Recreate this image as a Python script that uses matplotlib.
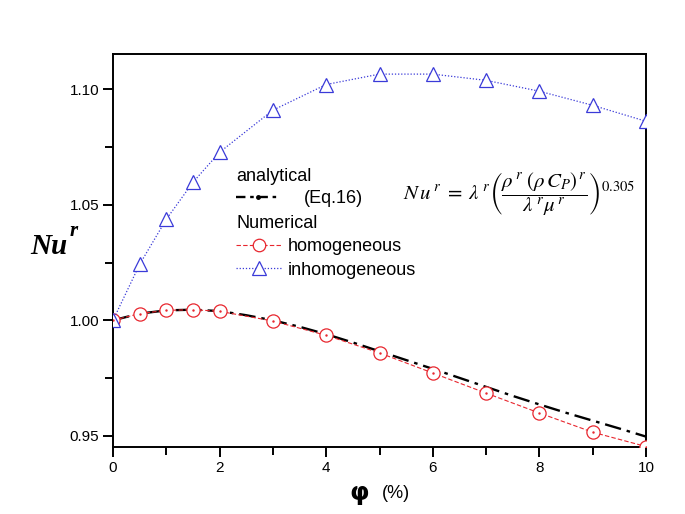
import matplotlib
matplotlib.use("Agg")
import matplotlib.pyplot as plt
from matplotlib.ticker import MultipleLocator, FixedLocator
from matplotlib.lines import Line2D

# ---- data ----
phi_num = [0, 0.5, 1, 1.5, 2, 3, 4, 5, 6, 7, 8, 9, 10]
nu_homog = [1.0000, 1.0029, 1.0043, 1.0046, 1.0039, 0.9997, 0.9935, 0.9859,
            0.9772, 0.9685, 0.9599, 0.9516, 0.9454]
nu_inhomog = [1.0000, 1.0242, 1.0437, 1.0597, 1.0727, 1.0909, 1.1020, 1.1065,
              1.1065, 1.1038, 1.0991, 1.0930, 1.0861]
phi_an = [0, 0.5, 1, 1.5, 2, 2.5, 3, 3.5, 4, 4.5, 5, 5.5, 6, 6.5, 7, 7.5, 8,
          8.5, 9, 9.5, 10]
nu_an = [1.0000, 1.0029, 1.0043, 1.0046, 1.0040, 1.0022, 1.0000, 0.9972,
         0.9940, 0.9904, 0.9866, 0.9828, 0.9790, 0.9751, 0.9712, 0.9673,
         0.9636, 0.9600, 0.9566, 0.9532, 0.9497]
xticks = [0, 2, 4, 6, 8, 10]
yticks = [0.95, 1.00, 1.05, 1.10]
ytick_labels = ["0.95", "1.00", "1.05", "1.10"]

RED = "#e8262e"
BLUE = "#3a3ad8"

plt.rcParams['font.family'] = ['Liberation Sans', 'DejaVu Sans']

fig = plt.figure(figsize=(6.85, 5.14), dpi=100)
ax = fig.add_axes([113/685, 67/514, 533/685, 393/514])

ax.plot(phi_an, nu_an, color="black", lw=1.7,
        dashes=(7, 2.5, 1.5, 2.5), zorder=2)
ax.plot(phi_num, nu_homog, color=RED, lw=0.8, ls=(0, (4, 2)), marker="o",
        ms=9.5, mfc="white", mec=RED, mew=0.9, zorder=3)
ax.plot(phi_num, nu_homog, ls="none", marker=".", ms=1.5, color=RED, zorder=4)
ax.plot(phi_num, nu_inhomog, color=BLUE, lw=0.9, ls=(0, (1, 1.5)), marker="^",
        ms=10, mfc="white", mec=BLUE, mew=0.9, zorder=3)

ax.set_xlim(0, 10)
ax.set_ylim(0.9452, 1.1152)
ax.xaxis.set_major_locator(FixedLocator(xticks))
ax.xaxis.set_minor_locator(MultipleLocator(1))
ax.yaxis.set_major_locator(FixedLocator(yticks))
ax.set_yticklabels(ytick_labels)
ax.yaxis.set_minor_locator(MultipleLocator(0.025))
ax.tick_params(which="both", direction="out", width=1.4, labelsize=11,
               top=False, right=False)
ax.tick_params(which="major", length=7, pad=3)
ax.tick_params(which="minor", length=6)
for s in ax.spines.values():
    s.set_linewidth(1.4)

# axis labels
ax.text((359-113)/533, -0.118, "φ", transform=ax.transAxes, ha="center",
        va="center", fontsize=18, fontweight="bold", family="DejaVu Sans")
ax.text((396-113)/533, -0.118, "(%)", transform=ax.transAxes, ha="center",
        va="center", fontsize=13)
fig.text(30/685, 1 - 246/514, "Nu", ha="left", va="center", fontsize=21,
         family="Liberation Serif", fontweight="bold", style="italic")
fig.text(70/685, 1 - 231/514, "r", ha="left", va="center", fontsize=15,
         family="Liberation Serif", fontweight="bold", style="italic")

# legends
h_an = Line2D([], [], color="black", lw=1.7, dashes=(4, 2, 1.5, 2),
              marker="o", ms=2.5)
leg1 = ax.legend([h_an], ["(Eq.16)"], title="analytical", alignment="left",
                 loc="upper left", bbox_to_anchor=((236-113)/533, (447-168)/393),
                 frameon=False, fontsize=13, title_fontsize=13, borderpad=0,
                 borderaxespad=0, handlelength=2.4, handletextpad=1.35,
                 labelspacing=0.3)
ax.add_artist(leg1)
h_ho = Line2D([], [], color=RED, lw=0.8, ls=(0, (4, 2)), marker="o", ms=9,
              mfc="white", mec=RED, mew=0.9)
h_in = Line2D([], [], color=BLUE, lw=0.9, ls=(0, (1, 1.5)), marker="^", ms=10,
              mfc="white", mec=BLUE, mew=0.9)
leg2 = ax.legend([h_ho, h_in], ["homogeneous", "inhomogeneous"],
                 title="Numerical", alignment="left", loc="upper left",
                 bbox_to_anchor=((236-113)/533, (447-215)/393), frameon=False,
                 fontsize=13, title_fontsize=13, borderpad=0, borderaxespad=0,
                 handlelength=2.5, handletextpad=0.35, labelspacing=0.35)

# equation
ax.text((403-113)/533, (447-194)/393,
        r"$N\,u^{\,r}\;=\;\lambda^{\,r}\left(\dfrac{\rho^{\,r}\;(\rho\, C_{P})^{\,r}}{\lambda^{\,r}\mu^{\,r}}\right)^{0.305}$",
        transform=ax.transAxes, ha="left", va="center", fontsize=15,
        math_fontfamily="stix")

fig.savefig("out.png", dpi=100)
